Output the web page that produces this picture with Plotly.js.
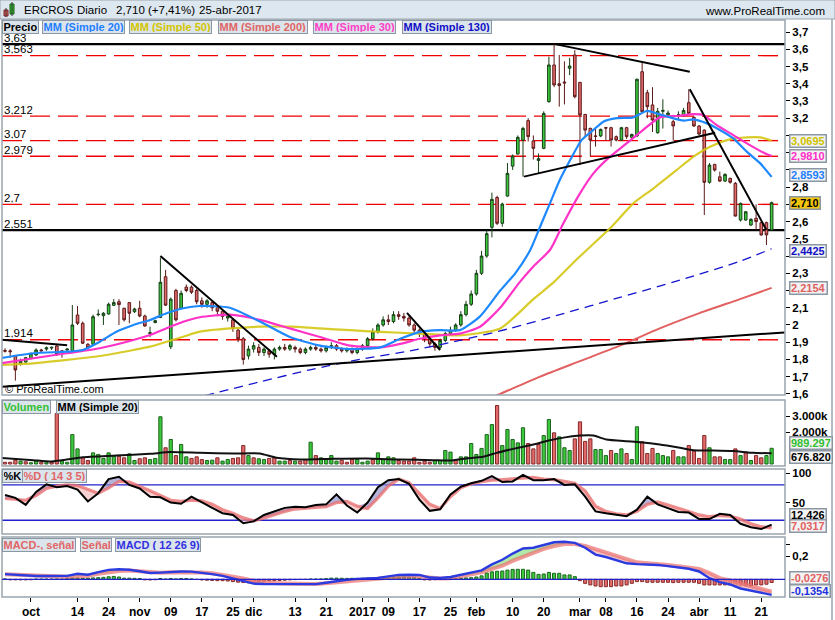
<!DOCTYPE html>
<html>
<head>
<meta charset="utf-8">
<script src="https://cdn.plot.ly/plotly-3.0.1.min.js"></script>
<style>
html,body{margin:0;padding:0;background:#fff;overflow:hidden}
#chart{width:835px;height:620px}
</style>
</head>
<body>
<div id="chart"></div>
<script>
// ================= DATA =================
const tickLabels = ["oct","14","24","nov","09","17","25","dic","13","21","2017","09","17","25","feb","10","20","mar","08","16","24","abr","11","21"];
const tickIdx = [5,14,20,26,32,38,44,48,56,62,69,74,80,86,91,98,104,111,116,122,128,134,140,146];

const opens = [
1.852,1.85,1.82,1.775,1.785,1.806,1.826,1.855,1.86,1.866,
1.878,1.85,1.855,1.851,2.058,2.01,1.888,1.888,2.06,2.054,
2.064,2.114,2.135,2.097,2.13,2.077,2.097,2.052,1.95,2.014,
2.044,2.28,1.874,2.2,2.097,2.22,2.22,2.2,2.14,2.12,
2.13,2.10,2.08,2.04,2.03,1.97,1.92,1.82,1.86,1.87,
1.84,1.85,1.83,1.86,1.87,1.86,1.87,1.86,1.84,1.86,
1.87,1.86,1.85,1.87,1.88,1.86,1.85,1.86,1.84,1.86,
1.88,1.92,1.96,2.00,2.03,2.02,2.06,2.05,2.04,2.00,
1.97,1.95,1.92,1.89,1.87,1.91,1.95,1.97,2.00,2.06,
2.12,2.18,2.30,2.40,2.567,2.74,2.59,2.748,2.922,2.992,
3.073,3.186,3.068,2.955,3.025,3.296,3.509,3.40,3.41,3.49,
3.567,3.408,3.222,3.141,3.097,3.097,3.145,3.145,3.093,3.073,
3.145,3.089,3.097,3.47,3.348,3.277,3.116,3.24,3.22,3.18,
3.22,3.22,3.29,3.205,3.155,3.131,2.828,2.932,2.86,2.835,
2.851,2.822,2.609,2.609,2.58,2.619,2.594,2.594,2.551];
const highs = [
1.865,1.86,1.82,1.805,1.815,1.84,1.865,1.862,1.875,1.875,
1.885,1.855,1.865,2.116,2.11,2.02,1.895,2.06,2.09,2.075,
2.13,2.15,2.15,2.10,2.13,2.10,2.14,2.06,1.99,2.03,
2.39,2.32,2.16,2.21,2.20,2.235,2.23,2.21,2.16,2.15,
2.14,2.11,2.09,2.06,2.04,1.98,1.93,1.88,1.90,1.89,
1.87,1.86,1.87,1.88,1.89,1.89,1.88,1.87,1.87,1.88,
1.89,1.87,1.88,1.90,1.89,1.87,1.87,1.87,1.87,1.89,
1.93,1.98,2.01,2.05,2.06,2.08,2.08,2.07,2.05,2.01,
1.98,1.96,1.93,1.90,1.92,1.96,1.99,2.01,2.08,2.14,
2.20,2.32,2.43,2.55,2.768,2.75,2.71,2.94,2.99,3.10,
3.15,3.20,3.10,2.995,3.24,3.557,3.63,3.567,3.53,3.55,
3.595,3.41,3.225,3.145,3.14,3.14,3.15,3.15,3.10,3.15,
3.15,3.11,3.43,3.522,3.365,3.38,3.26,3.31,3.245,3.19,
3.24,3.26,3.368,3.21,3.16,3.135,2.94,2.935,2.89,2.88,
2.855,2.83,2.71,2.66,2.62,2.70,2.60,2.60,2.716];
const lows = [
1.84,1.81,1.677,1.765,1.78,1.80,1.82,1.845,1.85,1.855,
1.82,1.81,1.845,1.85,2.0,1.89,1.86,1.88,2.05,2.0,
2.06,2.11,2.0,2.02,2.01,2.07,2.045,1.99,1.93,2.01,
2.04,2.11,1.86,2.02,2.09,2.19,2.18,2.12,2.10,2.10,
2.08,2.06,2.03,2.02,1.96,1.90,1.77,1.80,1.84,1.82,
1.82,1.81,1.80,1.85,1.85,1.85,1.84,1.83,1.83,1.85,
1.85,1.84,1.84,1.86,1.85,1.84,1.84,1.83,1.83,1.85,
1.87,1.91,1.95,1.99,2.00,2.01,2.03,2.02,1.99,1.95,
1.93,1.90,1.87,1.85,1.86,1.90,1.94,1.96,1.99,2.05,
2.11,2.17,2.29,2.39,2.508,2.58,2.57,2.745,2.90,2.99,
2.86,3.065,2.96,2.88,3.02,3.29,3.38,3.267,3.28,3.45,
3.315,2.928,3.09,2.98,3.035,3.09,3.07,3.035,3.065,3.07,
3.08,3.08,3.09,3.23,3.20,3.12,3.11,3.14,3.21,3.07,
3.19,3.21,3.22,3.15,3.10,2.638,2.82,2.89,2.83,2.83,
2.82,2.63,2.60,2.605,2.575,2.55,2.52,2.464,2.55];
const closes = [
1.848,1.845,1.739,1.79,1.81,1.835,1.855,1.85,1.868,1.87,
1.832,1.836,1.86,2.0,2.01,1.894,1.868,2.048,2.062,2.068,
2.12,2.13,2.118,2.03,2.068,2.093,2.052,1.994,1.955,2.025,
2.248,2.115,2.15,2.03,2.184,2.2,2.19,2.135,2.12,2.14,
2.10,2.08,2.05,2.05,1.98,1.92,1.80,1.86,1.88,1.84,
1.86,1.83,1.86,1.87,1.86,1.88,1.86,1.84,1.86,1.87,
1.86,1.85,1.87,1.88,1.86,1.85,1.86,1.84,1.86,1.88,
1.92,1.96,2.00,2.03,2.02,2.06,2.05,2.04,2.00,1.97,
1.95,1.92,1.89,1.87,1.91,1.95,1.97,2.00,2.06,2.12,
2.18,2.30,2.40,2.53,2.729,2.59,2.702,2.88,2.98,3.089,
3.141,3.093,3.025,2.965,3.228,3.509,3.393,3.39,3.405,3.503,
3.325,3.219,3.131,3.073,3.095,3.135,3.143,3.073,3.073,3.145,
3.093,3.106,3.426,3.238,3.267,3.19,3.24,3.245,3.23,3.155,
3.22,3.245,3.228,3.155,3.108,2.828,2.928,2.899,2.835,2.874,
2.828,2.632,2.706,2.657,2.613,2.60,2.522,2.523,2.71];

// volume, millions of shares
const volumes = [
0.11,0.11,0.24,0.18,0.14,0.08,0.18,0.11,0.08,0.11,
3.17,0.18,0.11,1.85,0.95,0.39,0.22,0.70,0.60,0.35,
0.70,0.49,0.49,0.39,0.64,0.22,0.33,0.39,0.28,0.35,
2.97,1.02,1.54,0.53,1.23,0.45,0.35,0.45,0.28,0.22,
0.24,0.39,0.18,0.28,0.35,0.39,1.16,0.53,0.39,0.33,
0.28,0.35,0.39,0.18,0.18,0.22,0.18,0.18,0.28,1.37,
0.53,0.39,0.28,0.53,0.18,0.24,0.11,0.28,0.28,0.11,
0.18,0.28,0.70,0.28,0.45,0.39,0.22,0.18,0.18,0.39,
0.11,0.18,0.11,0.22,0.22,0.85,0.75,0.24,0.45,0.45,
1.29,0.60,0.98,1.85,2.48,3.68,1.16,2.17,1.54,1.33,
2.28,1.29,0.95,1.23,1.79,2.80,1.96,1.71,1.02,0.85,
1.58,2.65,1.42,1.58,0.91,0.91,0.53,0.85,0.66,0.95,
0.66,0.28,2.34,1.40,0.66,0.98,0.66,0.53,0.45,0.85,
0.45,0.45,1.16,0.81,0.35,1.79,1.02,0.45,0.45,0.28,
0.28,0.95,0.53,0.70,0.22,0.53,0.39,0.53,0.989297];
const volColorCodes = "rrrgrggrgr"+"rggggrrggg"+"ggrrggrrgg"+"grgrggrrrg"+"grggrrrgrg"+"grrggrgrrg"+"rggggrrrgg"+"grggggrrrr"+"rrrggggrgg"+"gggggrgggg"+"grrrggrggg"+"rrrrgggrgg"+"rggrrrgggr"+"ggrrrrgrrg"+"grgrgrrgg";

const volMaX = [-1,5.5,8.7,11.9,15,21.5,28,31.9,37.6,44,49.2,52.4,57,63.4,69.8,76.3,82.7,85.9,89,92.3,94.9,98.1,102,105.2,108.4,111,113.6,116.1,120,122.6,126.4,130.3,132.9,136.8,140.6,144.4,148];
const volMaY = [0.39,0.24,0.16,0.28,0.43,0.53,0.64,0.75,0.70,0.66,0.66,0.39,0.28,0.33,0.35,0.28,0.24,0.22,0.35,0.45,0.70,0.95,1.23,1.50,1.69,1.79,1.79,1.54,1.43,1.37,1.23,1.02,0.87,0.85,0.81,0.70,0.67682];

// moving averages of price
const ma20X = [-1,5.5,11.9,15,18.3,21.5,24.8,28,31.2,34.4,37.6,43.4,49.2,55,60.8,66.6,72.4,76.3,80.1,84,87.8,91.7,95.6,98.5,101.4,103.3,105.2,107.1,109.1,111.3,113.6,115.5,118.1,121.3,123.9,125.8,128.4,131,132.9,135.5,138,140.6,143.2,145.8,148];
const ma20Y = [1.807,1.836,1.845,1.855,1.903,1.961,2.0,2.029,2.068,2.097,2.11,2.10,2.02,1.93,1.88,1.86,1.87,1.92,1.96,1.97,1.97,2.05,2.2,2.3,2.435,2.57,2.706,2.841,2.957,3.073,3.132,3.18,3.2,3.205,3.242,3.228,3.205,3.186,3.193,3.17,3.132,3.083,3.006,2.938,2.8593];
const ma30X = [-1,5.5,11.9,18.3,24.8,28,31.2,34.4,37.6,43.4,49.2,55,60.8,66.6,72.4,76.3,80.1,84,87.8,91.7,95.6,99.4,102,105.2,107.8,111,113.6,116.8,120,123.2,126.4,129.7,132.9,134.8,137.4,140.6,143.8,147,148];
const ma30Y = [1.777,1.807,1.836,1.865,1.913,1.942,1.981,2.019,2.045,2.06,2.03,1.98,1.93,1.88,1.87,1.89,1.92,1.94,1.95,1.99,2.1,2.25,2.34,2.435,2.59,2.764,2.88,2.977,3.054,3.132,3.205,3.213,3.224,3.219,3.16,3.102,3.044,2.992,2.981];
const ma50X = [-1,5.5,11.9,18.3,24.8,28,31.2,34.4,37.6,43.4,49.2,55,60.8,66.6,72.4,80.1,87.8,95.6,102,106,110,112.3,116.8,121.3,125.2,129.7,132.9,136.1,139.9,143.2,145.8,148];
const ma50Y = [1.768,1.777,1.797,1.82,1.855,1.874,1.903,1.932,1.961,1.98,1.99,1.99,1.98,1.97,1.96,1.95,1.94,1.98,2.15,2.25,2.37,2.435,2.561,2.706,2.793,2.9,2.977,3.035,3.077,3.089,3.089,3.0695];
const ma130X = [38.6,49.2,58.9,68.5,78.2,87.8,97.5,107.1,118.7,130.3,141.9,148];
const ma130Y = [1.59,1.67,1.74,1.80,1.85,1.91,1.98,2.06,2.16,2.26,2.37,2.4425];
const ma200X = [93,95.6,103.3,111,118.7,126.4,134.2,141.9,148];
const ma200Y = [1.57,1.60,1.70,1.79,1.88,1.98,2.07,2.15,2.2154];

// horizontal levels and trend lines drawn on the price chart
const levelValues = [3.63,3.563,3.212,3.07,2.979,2.7,2.551,1.914];
const levelSolid  = [true,false,false,false,false,false,true,false];
const trendLines = [
  [-1,1.640,150.5,1.957],
  [-1,1.916,12,1.882],
  [30,2.40,52.5,1.815],
  [77.6,2.07,84,1.855],
  [106.2,3.63,132.2,3.47],
  [100.2,2.861,137.1,3.116],
  [132.2,3.368,147,2.551]
];

// stochastic %K / %D (every second session)
const kEven = [63,58,46,68,81,76,78,72,52,66,
 90,94,80,74,60,59,50,48,60,50,
 41,32,29,15,18,29,35,41,43,42,
 46,47,64,45,33,50,76,88,90,82,
 55,36,38.5,64,77,83,87,95,85,86,
 97,88,88,90,80,81,60,35,32,29,
 27,38,60,47,41,34,33,22,22,31,
 29,14,8,5,12.426];
const dEven = [57,55,54,62,74,78,80,79,72,66,
 75,86,85,78,70,62,54,52,54,53,
 47,38,32,24,19,24,30,35,39,41,
 42,43,50,52,44,40,58,78,90,84,
 66,47,40,60,75,82,85.5,88,89,90,
 92,93,90,89,86,83,70,44,35,31,
 29,35,47,51,46,41,35,29,26,28,
 27,22,14,9,7.0317];
const stochLevels = [80,20];

// MACD (12 26 9) and signal (every second session), histogram daily
const macdEven = [0.045,0.04,0.032,0.029,0.029,0.029,0.03,0.048,0.04,0.062,
 0.082,0.087,0.083,0.07,0.055,0.058,0.065,0.068,0.067,0.058,
 0.045,0.03,0.008,-0.02,-0.038,-0.041,-0.042,-0.042,-0.041,-0.042,
 -0.042,-0.03,-0.015,-0.004,0.004,0.01,0.012,0.025,0.038,0.04,
 0.038,0.015,0.012,0.02,0.038,0.055,0.078,0.13,0.17,0.224,
 0.268,0.275,0.3,0.322,0.327,0.317,0.275,0.215,0.194,0.165,
 0.139,0.132,0.13,0.125,0.115,0.105,0.092,0.068,0.01,-0.025,
 -0.045,-0.08,-0.098,-0.118,-0.1354];
const sigEven = [0.043,0.04,0.033,0.028,0.026,0.024,0.023,0.026,0.03,0.048,
 0.062,0.072,0.076,0.07,0.06,0.058,0.061,0.063,0.062,0.059,
 0.052,0.04,0.025,0.008,-0.015,-0.026,-0.033,-0.036,-0.039,-0.041,
 -0.041,-0.035,-0.028,-0.018,-0.01,-0.004,0.004,0.013,0.023,0.027,
 0.027,0.015,0.008,0.01,0.025,0.04,0.06,0.09,0.118,0.16,
 0.196,0.232,0.265,0.29,0.307,0.307,0.29,0.262,0.233,0.198,
 0.174,0.148,0.14,0.135,0.124,0.113,0.1,0.089,0.055,0.01,
 -0.01,-0.035,-0.062,-0.088,-0.1078];
const macdHist = [
0.003,-0.005,-0.005,-0.005,-0.005,-0.004,0.002,0.002,0.002,0.002,
0.003,0.002,0.01,0.012,0.01,0.008,0.01,0.012,0.014,0.017,
0.022,0.025,0.02,0.01,0.01,0.008,0.007,-0.005,-0.006,-0.004,
0.007,0.002,0.007,0.003,0.007,0.007,0.003,-0.002,-0.006,-0.008,
-0.01,-0.012,-0.012,-0.015,-0.02,-0.025,-0.028,-0.03,-0.025,-0.018,
-0.015,-0.012,-0.012,-0.01,-0.008,-0.005,-0.003,-0.002,-0.001,0.002,
0.002,0.003,0.006,0.01,0.01,0.009,0.008,0.009,0.008,0.009,
0.01,0.01,0.012,0.015,0.017,0.02,0.02,0.02,0.017,0.014,
0.008,-0.005,-0.006,-0.004,0.002,0.004,0.006,0.007,0.01,0.012,
0.014,0.02,0.03,0.055,0.065,0.07,0.072,0.08,0.086,0.087,
0.087,0.08,0.06,0.043,0.046,0.06,0.052,0.052,0.038,0.038,
0.023,-0.012,-0.035,-0.049,-0.058,-0.064,-0.064,-0.064,-0.058,-0.058,
-0.049,-0.035,-0.02,-0.02,-0.026,-0.026,-0.026,-0.026,-0.026,-0.029,
-0.026,-0.026,-0.026,-0.026,-0.035,-0.049,-0.049,-0.049,-0.049,-0.049,
-0.049,-0.064,-0.058,-0.058,-0.058,-0.049,-0.049,-0.043,-0.0276];

// right-axis ticks (labels hidden behind the value boxes are left blank, as in the original)
const priceTickVals = [1.6,1.7,1.8,1.9,2.0,2.1,2.2,2.3,2.4,2.5,2.6,2.7,2.8,2.9,3.0,3.1,3.2,3.3,3.4,3.5,3.6,3.7];
const priceTickText = ["1,6","1,7","1,8","1,9","2","2,1","","2,3","","2,5","2,6","","2,8","","","","3,2","3,3","3,4","3,5","3,6","3,7"];

// ================= RENDER =================
const PL = 2, PR = 785, PT = 20, PB = 597;
const W = PR - PL, H = PB - PT;
const pxX = v => (v - PL) / W;
const pxY = v => (PB - v) / H;
const FONT = 'Liberation Sans, Arial, Helvetica, sans-serif';

const xIdx = closes.map((_, i) => i);
const oscX = kEven.map((_, i) => i * 2);
const GREEN = '#3cc83c', RED = '#e36a6a';

const traces = [];
traces.push({type:'candlestick', x:xIdx, open:opens, high:highs, low:lows, close:closes,
  xaxis:'x', yaxis:'y', whiskerwidth:0, hoverinfo:'skip',
  increasing:{line:{color:'#173f17', width:1}, fillcolor:GREEN},
  decreasing:{line:{color:'#5c1a1a', width:1}, fillcolor:RED}});

function line(x, y, ya, color, width, extra) {
  return Object.assign({type:'scatter', mode:'lines', x:x, y:y, xaxis:'x', yaxis:ya,
    line:Object.assign({color:color, width:width}, (extra && extra.line) || {}), hoverinfo:'skip'},
    extra && extra.rest ? extra.rest : {});
}
traces.push(line(ma200X, ma200Y, 'y', 'rgb(226,96,96)', 2, {line:{shape:'spline', smoothing:0.6}}));
traces.push(line(ma130X, ma130Y, 'y', 'rgb(20,20,205)', 1.3, {line:{shape:'spline', smoothing:0.6, dash:'9px,6px'}}));
traces.push(line(ma50X, ma50Y, 'y', 'rgba(212,198,20,0.9)', 2.2, {line:{shape:'spline', smoothing:0.6}}));
traces.push(line(ma30X, ma30Y, 'y', 'rgb(255,50,200)', 2.2, {line:{shape:'spline', smoothing:0.6}}));
traces.push(line(ma20X, ma20Y, 'y', 'rgb(30,136,255)', 2.2, {line:{shape:'spline', smoothing:0.6}}));
trendLines.forEach(t => traces.push(line([t[0], t[2]], [t[1], t[3]], 'y', '#000', 2)));

// volume
traces.push({type:'bar', x:xIdx, y:volumes, xaxis:'x', yaxis:'y2', width:0.62, hoverinfo:'skip',
  marker:{color:volColorCodes.split('').map(c => c === 'g' ? GREEN : RED),
          line:{color:volColorCodes.split('').map(c => c === 'g' ? '#1d661d' : '#862828'), width:1}}});
traces.push(line(volMaX, volMaY, 'y2', '#111', 2, {line:{shape:'spline', smoothing:0.5}}));

// stochastic with two-colour fill
const kHi = kEven.map((k, i) => Math.max(k, dEven[i]));
const kLo = kEven.map((k, i) => Math.min(k, dEven[i]));
traces.push(line(oscX, dEven, 'y3', 'rgba(0,0,0,0)', 0));
traces.push(line(oscX, kHi, 'y3', 'rgba(0,0,0,0)', 0, {rest:{fill:'tonexty', fillcolor:'rgba(140,140,200,0.65)'}}));
traces.push(line(oscX, dEven, 'y3', 'rgba(0,0,0,0)', 0));
traces.push(line(oscX, kLo, 'y3', 'rgba(0,0,0,0)', 0, {rest:{fill:'tonexty', fillcolor:'rgba(240,178,178,0.6)'}}));
traces.push(line(oscX, dEven, 'y3', 'rgba(232,105,105,0.75)', 3.2));
traces.push(line(oscX, kEven, 'y3', '#000', 2));

// MACD
const mHi = macdEven.map((m, i) => Math.max(m, sigEven[i]));
const mLo = macdEven.map((m, i) => Math.min(m, sigEven[i]));
traces.push(line(oscX, sigEven, 'y4', 'rgba(0,0,0,0)', 0));
traces.push(line(oscX, mHi, 'y4', 'rgba(0,0,0,0)', 0, {rest:{fill:'tonexty', fillcolor:'rgba(150,225,140,0.75)'}}));
traces.push(line(oscX, sigEven, 'y4', 'rgba(0,0,0,0)', 0));
traces.push(line(oscX, mLo, 'y4', 'rgba(0,0,0,0)', 0, {rest:{fill:'tonexty', fillcolor:'rgba(240,175,175,0.7)'}}));
traces.push({type:'bar', x:xIdx, y:macdHist, xaxis:'x', yaxis:'y4', width:0.6, hoverinfo:'skip',
  marker:{color:macdHist.map(v => v >= 0 ? GREEN : RED),
          line:{color:macdHist.map(v => v >= 0 ? '#1d661d' : '#862828'), width:1}}});
traces.push(line(oscX, sigEven, 'y4', 'rgba(235,110,110,0.7)', 4));
traces.push(line(oscX, macdEven, 'y4', '#2b3be0', 2.4));

// ---------- shapes ----------
const shapes = [];
const GREY = '#9aa5af';
shapes.push({type:'rect', xref:'paper', yref:'paper', x0:pxX(0), x1:pxX(835), y0:pxY(19), y1:pxY(0),
  fillcolor:'#dde7ef', line:{color:GREY, width:1}, layer:'below'});
// icon
shapes.push({type:'rect', xref:'paper', yref:'paper', x0:pxX(4), x1:pxX(8), y0:pxY(16), y1:pxY(10), fillcolor:'#e06060', line:{color:'#7a2020', width:1}});
shapes.push({type:'line', xref:'paper', yref:'paper', x0:pxX(6), x1:pxX(6), y0:pxY(17), y1:pxY(8), line:{color:'#333', width:1}});
shapes.push({type:'rect', xref:'paper', yref:'paper', x0:pxX(10), x1:pxX(14), y0:pxY(14), y1:pxY(4), fillcolor:'#30c030', line:{color:'#1d5d1d', width:1}});
shapes.push({type:'line', xref:'paper', yref:'paper', x0:pxX(12), x1:pxX(12), y0:pxY(16), y1:pxY(2), line:{color:'#333', width:1}});
// panel frames
[[20,395],[400,466],[469,534],[537,597]].forEach(p => shapes.push({type:'rect', xref:'paper', yref:'paper',
  x0:pxX(PL), x1:pxX(PR), y0:pxY(p[1]), y1:pxY(p[0]), line:{color:GREY, width:1.5}, layer:'above'}));
shapes.push({type:'line', xref:'paper', yref:'paper', x0:pxX(832), x1:pxX(832), y0:pxY(620), y1:pxY(19), line:{color:GREY, width:1.5}});
// price levels
levelValues.forEach((v, i) => shapes.push({type:'line', xref:'paper', yref:'y', x0:0, x1:1, y0:v, y1:v, layer:'below',
  line: levelSolid[i] ? {color:'#000', width:2.2} : {color:'#f00000', width:1.4, dash:'20px,8px'}}));
stochLevels.forEach(v => shapes.push({type:'line', xref:'paper', yref:'y3', x0:0, x1:1, y0:v, y1:v, layer:'below',
  line:{color:'#2020cc', width:1.3}}));
shapes.push({type:'line', xref:'paper', yref:'y4', x0:0, x1:1, y0:0, y1:0, layer:'above', line:{color:'#2020cc', width:1.3}});

// ---------- annotations ----------
const ann = [];
function txt(text, x, y, opts) {
  ann.push(Object.assign({text:text, xref:'paper', yref:'paper', x:pxX(x), y:pxY(y), showarrow:false,
    xanchor:'left', yanchor:'middle', font:{family:FONT, size:11, color:'#000'}}, opts || {}));
}
const HF = {family:FONT, size:11.5, color:'#000'};
txt('ERCROS', 22, 10, {font:HF});
txt('Diario', 75, 10, {font:HF});
txt('2,710 (+7,41%)', 114, 10, {font:HF});
txt('25-abr-2017', 197, 10, {font:HF});
txt('www.ProRealTime.com', 827, 11, {xanchor:'right', font:HF});
txt('© ProRealTime.com', 3, 389, {font:{family:FONT, size:11, color:'#000'}});

function legendBox(text, x, ytop, color) {
  ann.push({text:'<b>' + text + '</b>', xref:'paper', yref:'paper', x:pxX(x), y:pxY(ytop), xanchor:'left', yanchor:'top',
    showarrow:false, bgcolor:'#dce4eb', bordercolor:'#8b98a4', borderwidth:1, borderpad:0.5, height:10.5,
    font:{family:FONT, size:11, color:color}});
}
legendBox('Precio', 2, 20, '#000');
legendBox('MM (Simple 20)', 42, 20, '#1e7fff');
legendBox('MM (Simple 50)', 129, 20, '#d2c400');
legendBox('MM (Simple 200)', 218, 20, '#e06666');
legendBox('MM (Simple 30)', 313, 20, '#ff3ec8');
legendBox('MM (Simple 130)', 402, 20, '#1010c8');
legendBox('Volumen', 2, 400, '#33c033');
legendBox('MM (Simple 20)', 56, 400, '#000');
legendBox('%K', 2, 469, '#000');
legendBox('%D ( 14 3 5)', 22, 469, '#e06666');
legendBox('MACD-, señal', 2, 538, '#e06666');
legendBox('Señal', 80, 538, '#e06666');
legendBox('MACD ( 12 26 9)', 115, 538, '#3030e0');

levelValues.forEach(v => ann.push({text:String(v).replace('.', ','), xref:'paper', yref:'y', x:pxX(3), y:v,
  xanchor:'left', yanchor:'bottom', showarrow:false, borderpad:0, height:9.5, yshift:0.5,
  font:{family:FONT, size:11.5, color:'#000'}}));

function valBox(text, yref, y, color, bg, yshift) {
  ann.push({text:'<b>' + text + '</b>', xref:'paper', yref:yref, x:pxX(789), y:y, xanchor:'left', yanchor:'middle',
    yshift:yshift || 0, showarrow:false, bgcolor:bg || '#f3f3f3', bordercolor:'#8b98a4', borderwidth:1.5, borderpad:0.5,
    height:10, font:{family:FONT, size:11, color:color}});
}
const last = a => a[a.length - 1];
const fmt = (v, d) => v.toFixed(d).replace('.', ',');
valBox(fmt(last(ma50Y), 4), 'y', last(ma50Y), '#cfc200');
valBox(fmt(last(ma30Y), 4), 'y', last(ma30Y), '#ff30c8');
valBox(fmt(last(ma20Y), 4), 'y', last(ma20Y), '#1e7fff', null, 1.5);
valBox(fmt(last(closes), 3), 'y', last(closes), '#000', '#f2c40e');
valBox(fmt(last(ma130Y), 4), 'y', last(ma130Y), '#1010c8', null, -2);
valBox(fmt(last(ma200Y), 4), 'y', last(ma200Y), '#e06060');
valBox((last(volumes) * 1000).toFixed(3), 'y2', last(volumes), '#30c030', null, 5);
valBox((last(volMaY) * 1000).toFixed(3), 'y2', last(volMaY), '#000', null, -3.5);
valBox(fmt(last(kEven), 3), 'y3', last(kEven), '#000', null, 10);
valBox(fmt(last(dEven), 4), 'y3', last(dEven), '#e06060', null, 1.5);
valBox(fmt(last(macdHist), 4), 'y4', last(macdHist), '#e06060', null, 4.5);
valBox(fmt(last(macdEven), 4), 'y4', last(macdEven), '#2030e0', null, 4);

const bold = a => a.map(s => s === '' ? '' : '<b>' + s + '</b>');
const yCommon = {side:'right', ticks:'outside', ticklen:4, tickcolor:'#000', tickwidth:1, showgrid:false, zeroline:false,
  showline:false, fixedrange:true, tickfont:{family:FONT, size:11.5, color:'#000'}, anchor:'x'};

const layout = {
  width:835, height:620,
  margin:{l:PL, r:835 - PR, t:PT, b:620 - PB},
  paper_bgcolor:'#ffffff', plot_bgcolor:'#ffffff',
  separators:',.', showlegend:false, hovermode:false, barmode:'overlay', boxgap:0.28,
  font:{family:FONT, size:12, color:'#000'},
  xaxis:{range:[-0.58, 150.58], anchor:'y4', tickmode:'array', tickvals:tickIdx, ticktext:bold(tickLabels),
    ticks:'outside', ticklen:4, tickcolor:'#000', showgrid:false, zeroline:false, showline:false,
    rangeslider:{visible:false}, fixedrange:true, tickfont:{family:FONT, size:12, color:'#000'}},
  yaxis:Object.assign({}, yCommon, {domain:[pxY(395), 1], range:[1.5936, 3.770], tickmode:'array',
    tickvals:priceTickVals, ticktext:bold(priceTickText)}),
  yaxis2:Object.assign({}, yCommon, {domain:[pxY(466), pxY(400)], range:[-0.126, 4.025], tickmode:'array',
    tickvals:[2, 3], ticktext:bold(['2.000k', '3.000k'])}),
  yaxis3:Object.assign({}, yCommon, {domain:[pxY(534), pxY(469)], range:[-3.4, 107.1], tickmode:'array',
    tickvals:[50, 100], ticktext:bold(['50', '100'])}),
  yaxis4:Object.assign({}, yCommon, {domain:[0, pxY(537)], range:[-0.154, 0.368], tickmode:'array',
    tickvals:[0.2, 0.3], ticktext:bold(['0,2', ''])}),
  shapes:shapes,
  annotations:ann
};

Plotly.newPlot('chart', traces, layout, {staticPlot:true, displayModeBar:false});
</script>
</body>
</html>
